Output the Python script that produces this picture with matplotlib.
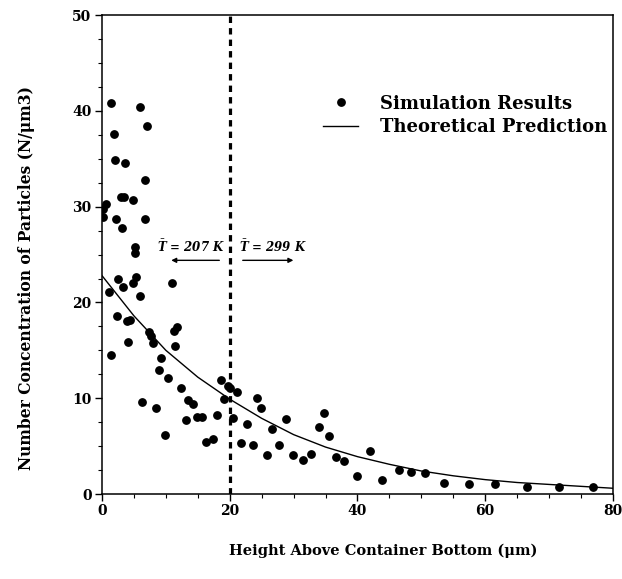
import numpy as np
import matplotlib
matplotlib.use('Agg')
import matplotlib.pyplot as plt
from matplotlib.ticker import MultipleLocator

plt.rcParams['font.family'] = 'DejaVu Serif'
plt.rcParams['font.weight'] = 'bold'
plt.rcParams['mathtext.fontset'] = 'custom'
plt.rcParams['mathtext.bf'] = 'DejaVu Serif:italic:bold'
plt.rcParams['mathtext.it'] = 'DejaVu Serif:italic:bold'

# simulated particle concentration vs height
sim_height = [1.35, 5.9, 7.0, 1.8, 2.1, 3.6, 6.8, 2.95, 3.5, 4.8, 0.7, 0.2, 0.2,
              2.2, 3.1, 6.8, 5.1, 5.1, 2.5, 5.4, 1.1, 3.3, 4.8, 5.9, 10.9, 2.3,
              3.9, 4.35, 4.1, 1.4, 7.3, 7.6, 8.0, 11.2, 11.75, 11.5, 9.3, 8.9,
              10.4, 12.3, 13.4, 14.2, 6.3, 8.4, 13.1, 14.9, 15.6, 9.9, 16.3, 17.4,
              18.0, 18.6, 19.05, 19.7, 20.1, 21.1, 20.45, 21.7, 22.7, 23.6, 24.2,
              24.95, 25.8, 26.6, 27.75, 28.8, 29.9, 31.5, 32.7, 33.9, 34.8, 35.6,
              36.6, 37.9, 39.9, 41.9, 43.8, 46.5, 48.4, 50.6, 53.6, 57.5, 61.6,
              66.5, 71.6, 76.8]
sim_conc = [40.8, 40.4, 38.4, 37.6, 34.9, 34.6, 32.8, 31.0, 31.0, 30.7, 30.3, 29.8, 28.9,
            28.7, 27.8, 28.7, 25.2, 25.8, 22.5, 22.7, 21.1, 21.6, 22.0, 20.7, 22.0, 18.6,
            18.1, 18.2, 15.9, 14.5, 16.9, 16.5, 15.8, 17.0, 17.4, 15.5, 14.2, 12.9,
            12.1, 11.1, 9.8, 9.4, 9.6, 9.0, 7.7, 8.0, 8.0, 6.2, 5.45, 5.7,
            8.3, 11.9, 9.9, 11.25, 11.1, 10.6, 7.9, 5.3, 7.3, 5.1, 10.0,
            9.0, 4.1, 6.8, 5.1, 7.8, 4.1, 3.5, 4.2, 7.0, 8.5, 6.1,
            3.9, 3.4, 1.9, 4.5, 1.5, 2.5, 2.3, 2.2, 1.2, 1.0, 1.0,
            0.7, 0.7, 0.7]

# theoretical prediction
theory_height = [0, 5, 10, 15, 20, 25, 30, 35, 40, 45, 50, 55, 60, 65, 70, 75, 80]
theory_conc = [22.8, 18.6, 15.0, 12.2, 9.9, 7.9, 6.2, 4.9, 3.9, 3.1, 2.4, 1.9, 1.5,
               1.2, 1.0, 0.8, 0.6]

boundary = 20
temp_labels = [r'$\mathbf{\bar{T}}$ = 207 K', r'$\mathbf{\bar{T}}$ = 299 K']

fig = plt.figure(figsize=(6.22, 5.79), dpi=100)
ax = fig.add_axes([0.164, 0.1468, 0.8215, 0.827])

ax.plot(sim_height, sim_conc, 'o', color='black', markersize=5.3, label='Simulation Results')
ax.plot(theory_height, theory_conc, '-', color='black', linewidth=1.0, label='Theoretical Prediction')
ax.axvline(boundary, color='black', linewidth=2.3, linestyle=(0, (2.0, 1.6)))

# temperature regions on either side of the boundary
ax.text(14.0, 25.8, temp_labels[0], ha='center', va='center', fontsize=8.5,
        fontstyle='italic', fontweight='bold')
ax.text(26.8, 25.8, temp_labels[1], ha='center', va='center', fontsize=8.5,
        fontstyle='italic', fontweight='bold')
ax.annotate('', xy=(10.4, 24.4), xytext=(18.8, 24.4),
            arrowprops=dict(arrowstyle='-|>', color='black', lw=1.0, mutation_scale=7))
ax.annotate('', xy=(30.4, 24.4), xytext=(21.6, 24.4),
            arrowprops=dict(arrowstyle='-|>', color='black', lw=1.0, mutation_scale=7))

ax.set_xlim(0, 80)
ax.set_ylim(0, 50)
ax.xaxis.set_major_locator(MultipleLocator(20))
ax.xaxis.set_minor_locator(MultipleLocator(5))
ax.yaxis.set_major_locator(MultipleLocator(10))
ax.yaxis.set_minor_locator(MultipleLocator(2.5))
ax.tick_params(which='major', length=5, width=1, labelsize=10, direction='out', pad=2.5)
ax.tick_params(which='minor', length=3, width=0.8, direction='out')
for s in ax.spines.values():
    s.set_linewidth(1.1)

ax.set_xlabel('Height Above Container Bottom (μm)', fontsize=10.5, fontweight='bold',
              labelpad=18, x=0.55)
ax.set_ylabel('Number Concentration of Particles (N/μm3)', fontsize=11.2, fontweight='bold',
              labelpad=27, y=0.451)

ax.legend(loc='upper left', bbox_to_anchor=(0.415, 0.853), frameon=False, fontsize=13,
          handlelength=1.95, handletextpad=1.2, labelspacing=0.3, borderpad=0,
          numpoints=1)

fig.savefig('out.png', dpi=100)
